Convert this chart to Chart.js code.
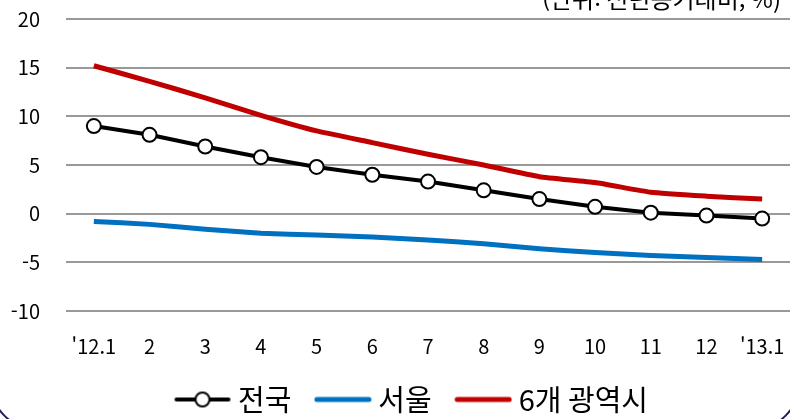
<!DOCTYPE html>
<html lang="ko">
<head>
<meta charset="UTF-8">
<title>전년동기대비</title>
<script src="https://cdn.jsdelivr.net/npm/chart.js"></script>
<style>
  html, body { margin: 0; padding: 0; background: #fff; overflow: hidden; }
  #wrap { position: relative; width: 790px; height: 419px; overflow: hidden; }
  #frame { position: absolute; left: -11px; top: -60px; width: 812px; height: 491px;
           box-sizing: border-box; border: 2px solid #1c1c5c; border-radius: 50px; }
  canvas { position: absolute; left: 0; top: 0; }
</style>
</head>
<body>
<div id="wrap">
  <div id="frame"></div>
  <canvas id="chart" width="790" height="424"></canvas>
</div>
<script>
const months = ["'12.1", "2", "3", "4", "5", "6", "7", "8", "9", "10", "11", "12", "'13.1"];
const national = [9.0, 8.1, 6.9, 5.8, 4.8, 4.0, 3.3, 2.4, 1.5, 0.7, 0.1, -0.2, -0.5];
const seoul = [-0.8, -1.1, -1.6, -2.0, -2.2, -2.4, -2.7, -3.1, -3.6, -4.0, -4.3, -4.5, -4.7];
const metro6 = [15.2, 13.6, 11.9, 10.1, 8.5, 7.3, 6.1, 5.0, 3.8, 3.2, 2.2, 1.8, 1.5];
const unitText = '(단위: 전년동기대비, %)';

const FONT = "'Noto Sans CJK KR', 'Noto Sans', sans-serif";

// legend markers drawn as little canvases
function marker(color, width, withDot) {
    const c = document.createElement('canvas');
    c.width = 58; c.height = 20;
    const g = c.getContext('2d');
    g.strokeStyle = color;
    g.lineWidth = width;
    g.lineCap = 'round';
    g.beginPath(); g.moveTo(3, 10); g.lineTo(55, 10); g.stroke();
    if (withDot) {
        g.fillStyle = '#fff';
        g.lineWidth = 2;
        g.beginPath(); g.arc(29, 10, 7, 0, Math.PI * 2); g.fill(); g.stroke();
    }
    return c;
}

const unitTitle = {
    id: 'unitTitle',
    afterDraw(chart) {
        const ctx = chart.ctx;
        ctx.save();
        ctx.font = '24px ' + FONT;
        ctx.fillStyle = '#000';
        ctx.textAlign = 'right';
        ctx.textBaseline = 'alphabetic';
        ctx.fillText(unitText, 781, 8);
        ctx.restore();
    }
};

// the legend in the original sits a bit right of centre
const legendNudge = {
    id: 'legendNudge',
    afterLayout(chart) {
        if (chart.legend) {
            chart.legend.left += 23;
            chart.legend.right += 23;
        }
    }
};

new Chart(document.getElementById('chart'), {
    type: 'line',
    data: {
        labels: months,
        datasets: [
            {
                label: '전국',
                data: national,
                borderColor: '#000',
                borderWidth: 4,
                pointRadius: 7,
                pointBackgroundColor: '#fff',
                pointBorderColor: '#000',
                pointBorderWidth: 2,
                tension: 0,
                order: 0,
                legendMarker: marker('#000', 4, true)
            },
            {
                label: '서울',
                data: seoul,
                borderColor: '#0070c0',
                borderWidth: 5,
                pointRadius: 0,
                tension: 0.15,
                order: 1,
                legendMarker: marker('#0070c0', 5, false)
            },
            {
                label: '6개 광역시',
                data: metro6,
                borderColor: '#c00000',
                borderWidth: 5,
                pointRadius: 0,
                tension: 0.15,
                order: 2,
                legendMarker: marker('#c00000', 5, false)
            }
        ]
    },
    options: {
        responsive: false,
        animation: false,
        devicePixelRatio: 1,
        layout: { autoPadding: false, padding: { top: 19, left: 0, right: 0, bottom: 0 } },
        plugins: {
            tooltip: { enabled: false },
            legend: {
                position: 'bottom',
                labels: {
                    usePointStyle: true,
                    pointStyleWidth: 42,
                    padding: 24,
                    color: '#000',
                    font: { family: FONT, size: 29 },
                    generateLabels(chart) {
                        // trailing space widens the gap before the next item
                        return chart.data.datasets.map((ds, i) => ({
                            text: ds.label + ' ',
                            pointStyle: ds.legendMarker,
                            fillStyle: ds.borderColor,
                            strokeStyle: ds.borderColor,
                            lineWidth: 0,
                            hidden: false,
                            datasetIndex: i
                        }));
                    }
                }
            }
        },
        scales: {
            x: {
                offset: true,
                grid: { display: false, drawTicks: false },
                border: { display: false },
                ticks: { color: '#000', padding: 23, font: { family: FONT, size: 20 }, maxRotation: 0, autoSkip: false },
                afterFit(scale) { scale.height = 50; scale.paddingLeft = 0; scale.paddingRight = 0; }
            },
            y: {
                min: -10,
                max: 20,
                grid: { color: '#999', lineWidth: 2, drawTicks: false },
                border: { display: false },
                ticks: { stepSize: 5, color: '#000', padding: 26, font: { family: FONT, size: 20 } },
                afterFit(scale) { scale.width = 66; scale.paddingTop = 0; scale.paddingBottom = 0; }
            }
        }
    },
    plugins: [unitTitle, legendNudge]
});
</script>
</body>
</html>
